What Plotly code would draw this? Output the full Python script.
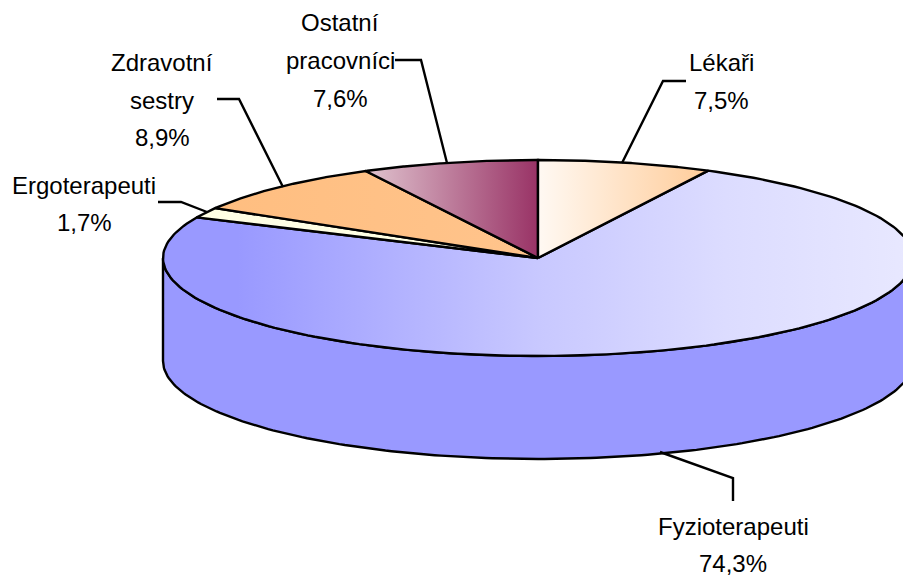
import numpy as np
import plotly.graph_objects as go

# Data
labels = ["Lékaři", "Fyzioterapeuti", "Ergoterapeuti", "Zdravotní sestry", "Ostatní pracovníci"]
values = [7.5, 74.3, 1.7, 8.9, 7.6]
label_lines = [["Lékaři", "7,5%"], ["Fyzioterapeuti", "74,3%"], ["Ergoterapeuti", "1,7%"],
               ["Zdravotní", "sestry", "8,9%"], ["Ostatní", "pracovníci", "7,6%"]]

# Layout / style (pixel space)
W, H = 903, 576
CX, CY, RX, RY, DEPTH = 538, 258, 375, 98, 103
FONT = "Liberation Sans, Arial, sans-serif"
SCALES = [
    [[0, "#FFF9F3"], [1, "#FFCC99"]],
    [[0, "#9999FF"], [0.1, "#9999FF"], [0.5, "#C8C8FF"], [0.75, "#DCDCFF"], [1, "#E8E8FF"]],
    [[0, "#FFFFE4"], [1, "#FFFFE4"]],
    [[0, "#FFBE80"], [1, "#FFC48C"]],
    [[0, "#E0C4CF"], [1, "#993366"]],
]
LABEL_POS = [(721, [62, 100]), (733, [526, 563]), (84, [185, 222]),
             (162, [62, 100, 137]), (340, [22, 60, 98])]
LEADERS = [[(686, 81), (663, 81), (622, 163)], [(733, 501), (733, 478), (660, 452)],
           [(158, 202), (181, 202), (207, 212)], [(217, 99), (239, 99), (283, 187)],
           [(395, 60), (421, 60), (447, 163)]]


def ex(t):
    return CX + RX * np.sin(t)


def ey(t):
    return CY - RY * np.cos(t)


fig = go.Figure()
line = dict(color="black", width=2.4)

# Cylinder side (front half of the rim)
t = np.radians(np.linspace(90, 270, 181))
fig.add_trace(go.Scatter(
    x=np.r_[ex(t), ex(t[::-1])], y=np.r_[ey(t), ey(t[::-1]) + DEPTH],
    mode="lines", fill="toself", fillcolor="#9999FF", line=line, hoverinfo="skip"))

# Top face slices
edges = np.radians(np.r_[0, np.cumsum(values)] / sum(values) * 360)
order = [1, 2, 3, 4, 0]
for i in order:
    a = np.linspace(edges[i], edges[i + 1], 200)
    xs, ys = np.r_[CX, ex(a), CX], np.r_[CY, ey(a), CY]
    fig.add_trace(go.Scatter(
        x=xs, y=ys, mode="lines", fill="toself", line=line, hoverinfo="skip",
        fillgradient=dict(type="horizontal", colorscale=SCALES[i],
                          start=float(xs.min()), stop=float(xs.max()))))

# Leader lines
for pts in LEADERS:
    fig.add_trace(go.Scatter(x=[p[0] for p in pts], y=[p[1] for p in pts],
                             mode="lines", line=line, hoverinfo="skip"))

# Labels
annotations = []
for lines, (x, ypos) in zip(label_lines, LABEL_POS):
    for txt, y in zip(lines, ypos):
        annotations.append(dict(x=x, y=y, text=txt, showarrow=False, xanchor="center",
                                yanchor="middle", font=dict(family=FONT, size=24, color="black")))

fig.update_layout(
    width=W, height=H, margin=dict(l=0, r=0, t=0, b=0), showlegend=False,
    paper_bgcolor="white", plot_bgcolor="white", annotations=annotations,
    xaxis=dict(range=[0, W], visible=False, fixedrange=True),
    yaxis=dict(range=[H, 0], visible=False, fixedrange=True),
)
fig.write_html("out.html", config=dict(displayModeBar=False),
               post_script="document.body.style.margin='0';document.documentElement.style.overflow='hidden';")
